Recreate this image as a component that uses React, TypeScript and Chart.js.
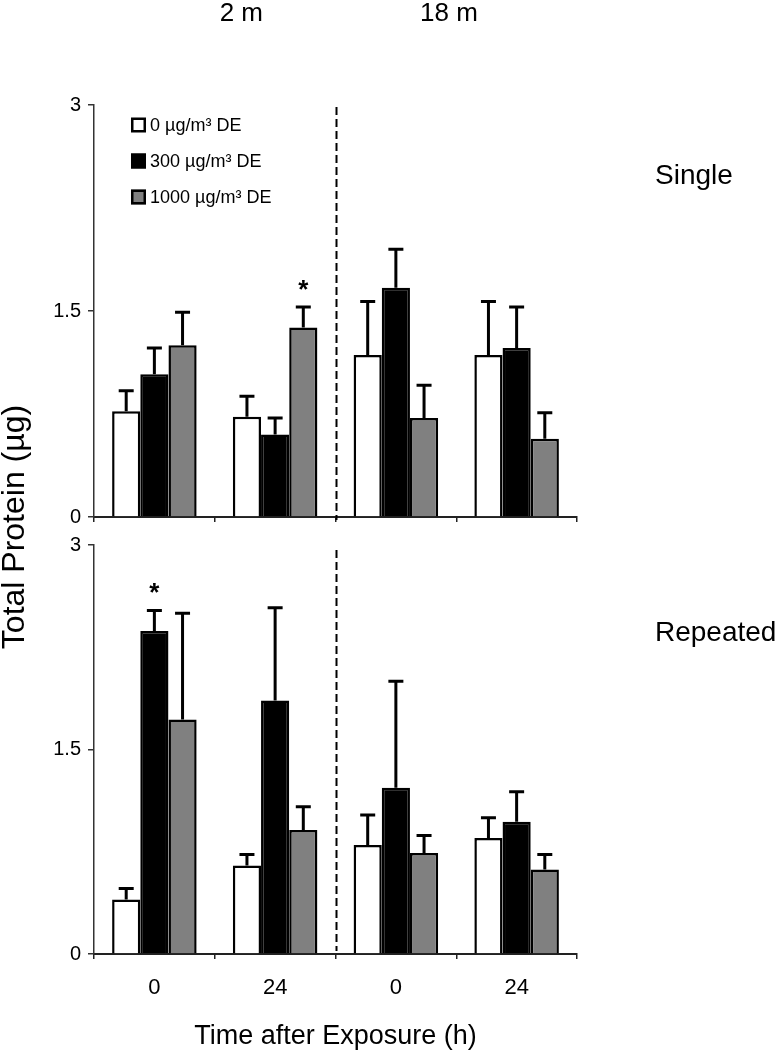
import React, { useEffect, useRef } from 'react';
import { Chart, registerables } from 'chart.js';

Chart.register(...registerables);

const FONT = '"Liberation Sans", Arial, sans-serif';

const timeLabels = ['0', '24', '0', '24'];
const distanceLabels = ['2 m', '18 m'];
const seriesNames = ['0 µg/m³ DE', '300 µg/m³ DE', '1000 µg/m³ DE'];
const seriesColors = ['#ffffff', '#000000', '#808080'];
const yTickValues = [0, 1.5, 3];
const panelNames = ['Single', 'Repeated'];
const yTitle = 'Total Protein (µg)';
const xTitle = 'Time after Exposure (h)';

// Single exposure
const singleControl = [0.77, 0.73, 1.18, 1.18];
const singleControlErr = [0.15, 0.15, 0.39, 0.39];
const single300 = [1.04, 0.6, 1.67, 1.23];
const single300Err = [0.19, 0.12, 0.28, 0.3];
const single1000 = [1.25, 1.38, 0.72, 0.57];
const single1000Err = [0.24, 0.15, 0.24, 0.19];
const singleStars = [[2, 1]]; // [series, category]

// Repeated exposure
const repeatedControl = [0.4, 0.65, 0.8, 0.85];
const repeatedControlErr = [0.08, 0.08, 0.22, 0.15];
const repeated300 = [2.37, 1.86, 1.22, 0.97];
const repeated300Err = [0.15, 0.68, 0.78, 0.22];
const repeated1000 = [1.72, 0.91, 0.74, 0.62];
const repeated1000Err = [0.78, 0.17, 0.13, 0.11];
const repeatedStars = [[1, 0]];

const W = 777;
const H = 1050;

type PanelOpts = {
  values: number[][];
  errors: number[][];
  stars: number[][];
  panelName: string;
  isTop: boolean;
};

function makeOverlay(p: PanelOpts) {
  return {
    id: 'overlay',
    afterDatasetsDraw(chart: any) {
      const ctx = chart.ctx as CanvasRenderingContext2D;
      const xs = chart.scales.x;
      const ys = chart.scales.y;
      const area = chart.chartArea;
      ctx.save();
      // error bars
      ctx.strokeStyle = '#000';
      ctx.lineWidth = 3;
      p.values.forEach((vals, di) => {
        const meta = chart.getDatasetMeta(di);
        meta.data.forEach((bar: any, i: number) => {
          const v = vals[i];
          const e = p.errors[di][i];
          const yv = ys.getPixelForValue(v);
          const ye = ys.getPixelForValue(v + e);
          ctx.beginPath();
          ctx.moveTo(bar.x, yv);
          ctx.lineTo(bar.x, ye);
          ctx.moveTo(bar.x - 7.5, ye);
          ctx.lineTo(bar.x + 7.5, ye);
          ctx.stroke();
        });
      });
      // significance stars
      ctx.fillStyle = '#000';
      ctx.font = `bold 26px ${FONT}`;
      ctx.textAlign = 'center';
      ctx.textBaseline = 'alphabetic';
      p.stars.forEach(([di, ci]) => {
        const bar = chart.getDatasetMeta(di).data[ci];
        const v = p.values[di][ci] + p.errors[di][ci];
        const yc = ys.getPixelForValue(v) - 25;
        ctx.fillText('*', bar.x, yc + 16);
      });
      // dashed separator
      const xd = Math.round(xs.getPixelForValue(1.5)) + 0.5;
      ctx.setLineDash([8, 4]);
      ctx.lineWidth = 2;
      ctx.beginPath();
      ctx.moveTo(xd, p.isTop ? area.top + 2 : area.top + 5);
      ctx.lineTo(xd, p.isTop ? area.bottom + 3 : area.bottom - 3);
      ctx.stroke();
      ctx.setLineDash([]);
      ctx.restore();
    },
    afterDraw(chart: any) {
      const ctx = chart.ctx as CanvasRenderingContext2D;
      const area = chart.chartArea;
      const xs = chart.scales.x;
      ctx.save();
      ctx.fillStyle = '#000';
      // panel name on the right
      ctx.font = `28px ${FONT}`;
      ctx.textAlign = 'left';
      ctx.textBaseline = 'middle';
      ctx.fillText(p.panelName, area.right + 78, p.isTop ? area.top + 71 : area.top + 88);
      if (p.isTop) {
        // distance headers
        ctx.font = `26px ${FONT}`;
        ctx.textAlign = 'center';
        ctx.fillText(distanceLabels[0], xs.getPixelForValue(0.72), 14);
        ctx.fillText(distanceLabels[1], xs.getPixelForValue(2.44), 14);
        // legend
        ctx.font = `18px ${FONT}`;
        ctx.textAlign = 'left';
        seriesNames.forEach((name, i) => {
          const yc = area.top + 20 + i * 36;
          const bx = area.left + 37;
          ctx.fillStyle = seriesColors[i];
          ctx.fillRect(bx, yc - 7.5, 15, 15);
          ctx.strokeStyle = '#000';
          ctx.lineWidth = 2.5;
          ctx.strokeRect(bx + 1.25, yc - 6.25, 12.5, 12.5);
          ctx.fillStyle = '#000';
          ctx.fillText(name, bx + 19, yc + 1);
        });
        // shared y title
        ctx.translate(15, 527);
        ctx.rotate(-Math.PI / 2);
        ctx.font = `32px ${FONT}`;
        ctx.textAlign = 'center';
        ctx.textBaseline = 'middle';
        ctx.fillText(yTitle, 0, 0);
      }
      ctx.restore();
    },
  };
}

function buildConfig(p: PanelOpts, layout: { top: number; bottom: number; xHeight: number }): any {
  return {
    type: 'bar',
    data: {
      labels: timeLabels,
      datasets: p.values.map((vals, i) => ({
        label: seriesNames[i],
        data: vals,
        backgroundColor: seriesColors[i],
        borderColor: '#000',
        borderWidth: 2.5,
        barPercentage: 1,
        categoryPercentage: 0.7,
      })),
    },
    options: {
      responsive: false,
      animation: false,
      devicePixelRatio: 1,
      layout: { padding: { left: 0, right: 200, top: layout.top, bottom: layout.bottom } },
      plugins: { legend: { display: false }, tooltip: { enabled: false } },
      scales: {
        x: {
          type: 'category',
          offset: true,
          grid: { offset: true, drawOnChartArea: false, drawTicks: true, tickLength: 5, color: '#222', lineWidth: 1.5 },
          border: { display: true, color: '#222', width: 2 },
          ticks: {
            display: !p.isTop,
            color: '#000',
            padding: 16,
            font: { family: FONT, size: 22 },
            maxRotation: 0,
          },
          title: {
            display: !p.isTop,
            text: xTitle,
            color: '#000',
            font: { family: FONT, size: 27, lineHeight: 1 },
            padding: 0,
          },
          afterFit: (s: any) => {
            s.height = layout.xHeight;
          },
        },
        y: {
          type: 'linear',
          min: 0,
          max: 3,
          afterBuildTicks: (s: any) => {
            s.ticks = yTickValues.map((v) => ({ value: v }));
          },
          grid: { drawOnChartArea: false, drawTicks: true, tickLength: 6, color: '#333', lineWidth: 1.5 },
          border: { display: true, color: '#333', width: 1.5 },
          ticks: {
            color: '#000',
            padding: 7,
            font: { family: FONT, size: 20 },
            callback: (v: any) => String(v),
          },
          afterFit: (s: any) => {
            s.width = 94;
          },
        },
      },
    },
    plugins: [makeOverlay(p)],
  };
}

export default function App() {
  const topRef = useRef<HTMLCanvasElement>(null);
  const botRef = useRef<HTMLCanvasElement>(null);

  useEffect(() => {
    document.body.style.margin = '0';
    const top = new Chart(
      topRef.current as HTMLCanvasElement,
      buildConfig(
        {
          values: [singleControl, single300, single1000],
          errors: [singleControlErr, single300Err, single1000Err],
          stars: singleStars,
          panelName: panelNames[0],
          isTop: true,
        },
        { top: 105, bottom: H - 517 - 10, xHeight: 10 }
      )
    );
    const bot = new Chart(
      botRef.current as HTMLCanvasElement,
      buildConfig(
        {
          values: [repeatedControl, repeated300, repeated1000],
          errors: [repeatedControlErr, repeated300Err, repeated1000Err],
          stars: repeatedStars,
          panelName: panelNames[1],
          isTop: false,
        },
        { top: 545, bottom: 0, xHeight: 96 }
      )
    );
    return () => {
      top.destroy();
      bot.destroy();
    };
  }, []);

  const cs: React.CSSProperties = { position: 'absolute', left: 0, top: 0, display: 'block' };
  return (
    <div style={{ position: 'relative', width: W, height: H, background: '#fff', overflow: 'hidden' }}>
      <canvas ref={botRef} width={W} height={H} style={cs} />
      <canvas ref={topRef} width={W} height={H} style={cs} />
    </div>
  );
}
